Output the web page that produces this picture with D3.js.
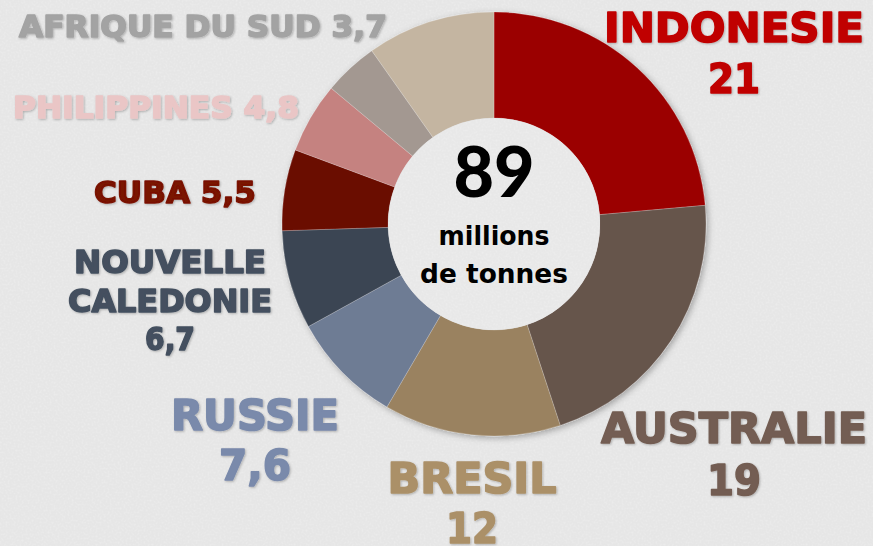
<!DOCTYPE html>
<html>
<head>
<meta charset="utf-8">
<script src="https://cdn.jsdelivr.net/npm/d3@7"></script>
<style>
  html, body { margin: 0; padding: 0; background: #ececec; }
  svg { display: block; }
  .lbl { font-family: "DejaVu Sans", "Liberation Sans", sans-serif; font-weight: 700; stroke-width: 1.6px; stroke-linejoin: round; }
  .mid { font-family: "DejaVu Sans", sans-serif; font-weight: 700; fill: #000; }
</style>
</head>
<body>
<div id="chart"></div>
<script>
const width = 873;
const height = 546;

// data (millions de tonnes)
const countries = ['INDONESIE', 'AUSTRALIE', 'BRESIL', 'RUSSIE', 'NOUVELLE CALEDONIE', 'CUBA', 'PHILIPPINES', 'AFRIQUE DU SUD', 'AUTRES'];
const values = [21, 19, 12, 7.6, 6.7, 5.5, 4.8, 3.7, 8.7];
const valueLabels = ['21', '19', '12', '7,6', '6,7', '5,5', '4,8', '3,7', ''];
const sliceColors = ['#9b0000', '#66544b', '#9a8260', '#6e7b94', '#3b4553', '#6a0b00', '#c58280', '#a39891', '#c4b5a1'];
const labelColors = ['#c00000', '#735d52', '#ab9068', '#7a8aab', '#44505f', '#7a1200', '#eac6c6', '#a3a3a3', null];
const total = '89';

// label layout: lines of text with their widths, center x, first baseline, font size, line step
const labelLayout = [
  { lines: ['INDONESIE', '21'], w: [260, 52], x: 734, y: 42, size: 41, step: 51 },
  { lines: ['AUSTRALIE', '19'], w: [266, 54], x: 734, y: 443, size: 42, step: 52 },
  { lines: ['BRESIL', '12'], w: [169, 52], x: 472, y: 493, size: 42, step: 50 },
  { lines: ['RUSSIE', '7,6'], w: [168, 72], x: 255, y: 430, size: 42, step: 50 },
  { lines: ['NOUVELLE', 'CALEDONIE', '6,7'], w: [192, 204, 50], x: 170, y: 273, size: 32, step: 38.5 },
  { lines: ['CUBA 5,5'], w: [162], x: 175, y: 203, size: 31 },
  { lines: ['PHILIPPINES 4,8'], w: [286], x: 156, y: 118, size: 30 },
  { lines: ['AFRIQUE DU SUD 3,7'], w: [368], x: 203, y: 37, size: 30 },
];

const cx = 494, cy = 224, outerR = 212, innerR = 106;

const svg = d3.select('#chart').append('svg')
  .attr('width', width).attr('height', height);

const defs = svg.append('defs');
const paper = defs.append('filter').attr('id', 'paper').attr('x', 0).attr('y', 0).attr('width', '100%').attr('height', '100%');
paper.append('feTurbulence').attr('type', 'fractalNoise').attr('baseFrequency', 0.5).attr('numOctaves', 3).attr('seed', 3).attr('result', 'noise');
paper.append('feColorMatrix').attr('in', 'noise').attr('type', 'matrix')
  .attr('values', '0 0 0 0 1  0 0 0 0 1  0 0 0 0 1  0 0 0 -0.5 0.28').attr('result', 'dots');
paper.append('feComposite').attr('in', 'dots').attr('in2', 'SourceGraphic').attr('operator', 'in').attr('result', 'tex');
paper.append('feMerge').selectAll('feMergeNode').data(['SourceGraphic', 'tex']).join('feMergeNode').attr('in', d => d);

const shadow = defs.append('filter').attr('id', 'shadow').attr('x', '-20%').attr('y', '-20%').attr('width', '140%').attr('height', '140%');
shadow.append('feDropShadow').attr('dx', 2).attr('dy', 2).attr('stdDeviation', 3).attr('flood-color', '#000').attr('flood-opacity', 0.3);

const txtShadow = defs.append('filter').attr('id', 'tshadow');
txtShadow.append('feDropShadow').attr('dx', 1).attr('dy', 1).attr('stdDeviation', 0.8).attr('flood-color', '#000').attr('flood-opacity', 0.25);

// background
svg.append('rect').attr('width', width).attr('height', height).attr('fill', '#e6e6e6').attr('filter', 'url(#paper)');

const pie = d3.pie().sort(null).value(d => d);
const arc = d3.arc().innerRadius(innerR).outerRadius(outerR);

const g = svg.append('g').attr('transform', `translate(${cx},${cy})`);
g.append('g').attr('filter', 'url(#shadow)')
  .selectAll('path')
  .data(pie(values))
  .join('path')
  .attr('d', arc)
  .attr('fill', (d, i) => sliceColors[i])
  .attr('stroke', 'rgba(255,255,255,0.35)')
  .attr('stroke-width', 0.6);

// inner disc
g.append('circle').attr('r', innerR).attr('fill', '#e8e8e8').attr('filter', 'url(#paper)');

g.append('text').attr('class', 'mid').attr('text-anchor', 'middle').attr('y', -27)
  .style('font-family', 'Lato, sans-serif').style('font-weight', 900).style('font-size', '70px').text(total);
g.append('text').attr('class', 'mid').attr('text-anchor', 'middle').attr('y', 21)
  .attr('textLength', 111).attr('lengthAdjust', 'spacingAndGlyphs')
  .style('font-size', '27px').text('millions');
g.append('text').attr('class', 'mid').attr('text-anchor', 'middle').attr('y', 59)
  .attr('textLength', 148).attr('lengthAdjust', 'spacingAndGlyphs')
  .style('font-size', '27px').text('de tonnes');

// labels
const labels = svg.append('g').attr('filter', 'url(#tshadow)');
labelLayout.forEach((l, i) => {
  const t = labels.append('text').attr('class', 'lbl')
    .attr('text-anchor', 'middle')
    .attr('fill', labelColors[i])
    .attr('stroke', labelColors[i])
    .style('font-size', l.size + 'px');
  l.lines.forEach((line, j) => {
    t.append('tspan').attr('x', l.x).attr('y', l.y + j * (l.step || 0))
      .attr('textLength', l.w[j]).attr('lengthAdjust', 'spacingAndGlyphs')
      .text(line);
  });
});
</script>
</body>
</html>
